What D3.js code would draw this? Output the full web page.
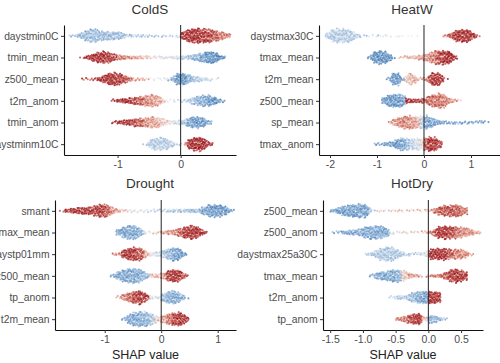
<!DOCTYPE html>
<html><head><meta charset="utf-8">
<script src="https://cdn.jsdelivr.net/npm/d3@7"></script>
<style>
body{margin:0;background:#fff}
svg{display:block}
text{font-family:"Liberation Sans",Arial,Helvetica,sans-serif}
</style>
</head><body>
<svg id="chart" width="500" height="363"></svg>
<script>
// ---------------- DATA (histograms of SHAP values) ----------------
// Each feature row: bins of width 0.1 starting at *Start; counts = relative number of samples,
// colours = mean normalised feature value in the bin (-1 low / blue ... +1 high / red).
const binWidth = 0.1;
const panelTitles = ["ColdS", "HeatW", "Drought", "HotDry"];

const coldsFeatures = ["daystmin0C", "tmin_mean", "z500_mean", "t2m_anom", "tmin_anom", "daystminm10C"];
const coldsStart = [-1.8, -1.6, -1.6, -1.1, -1.1, -0.6];
const coldsCounts = [
  [2,6,18,30,30,22,20,18,16,5, 4,4,4,3,3,3,3,2, 20,30,35,32,30,26,20,10],
  [3,12,22,28,26,14,10,9,8,7,6,6,6,6,6,7,8,10,15,22,28,24,8],
  [2,3,5,14,26,30,24,14,6,4,3,3,3,3,8,26,28,18,14,10,6,2],
  [4,8,12,16,20,24,28,24,4,3,3,4,12,22,26,26,16,4],
  [5,10,14,18,20,22,26,24,14,8,8,12,24,28,22,8],
  [3,28,30,30,14,3,3,24,32,30,8]
];
const coldsColours = [
  [-0.45,-0.45,-0.45,-0.45,-0.45,-0.45,-0.45,-0.45,-0.45,-0.45, -0.42,-0.4,-0.38,-0.35,-0.3,-0.25,-0.2,-0.15, 0.9,0.9,0.9,0.85,0.8,0.7,0.6,0.55],
  [0.9,0.9,0.9,0.9,0.85,0.8,0.6,0.5,0.4,0.3,0.2,0.1,0,-0.05,-0.1,-0.2,-0.3,-0.4,-0.5,-0.65,-0.75,-0.8,-0.8],
  [0.85,0.85,0.85,0.9,0.9,0.9,0.85,0.7,0.5,0.4,0.3,0.2,0.1,0,-0.5,-0.75,-0.7,-0.5,-0.35,-0.25,-0.15,-0.1],
  [0.95,0.95,0.9,0.85,0.7,0.55,0.45,0.35,0.15,0.05,-0.1,-0.2,-0.35,-0.5,-0.55,-0.7,-0.8,-0.8],
  [0.95,0.95,0.9,0.8,0.7,0.5,0.4,0.3,0.15,0,-0.15,-0.4,-0.65,-0.7,-0.7,-0.6],
  [-0.3,-0.3,-0.3,-0.3,-0.3,-0.2,0.5,0.95,0.95,0.95,0.9]
];
const coldsTicks = [-1, 0];

const heatwFeatures = ["daystmax30C", "tmax_mean", "t2m_mean", "z500_mean", "sp_mean", "tmax_anom"];
const heatwStart = [-2.1, -1.2, -0.8, -0.9, -0.8, -1.1];
const heatwCounts = [
  [12,30,34,34,32,26,14,4, 2,2,2,2,1,1,1,1,1,1,1,1, 0,0,0,0,0, 2,10,22,28,30,26,16,4],
  [6,28,32,30,20,4,1,2,6,8,10,12,16,24,30,34,34,30,8],
  [4,30,30,4,22,28,10,3,6,26,30,26,2],
  [16,28,32,32,28,12,10,8,10,14,26,32,34,28,12,6,2],
  [2,14,22,28,32,32,26,28,32,24,14,8,6,5,4,4,6,5,6,5,4,2],
  [2,6,6,8,14,26,30,26,26,28,24,30,34,30,14]
];
const heatwColours = [
  [-0.3,-0.3,-0.3,-0.3,-0.3,-0.3,-0.3,-0.3, -0.3,-0.3,-0.28,-0.27,-0.25,-0.24,-0.22,-0.2,-0.18,-0.16,-0.14,-0.12, 0,0,0,0,0, 0.5,0.7,0.85,0.9,0.9,0.9,0.9,0.85],
  [-0.75,-0.75,-0.75,-0.75,-0.75,-0.75,0.2,0.25,0.3,0.3,0.35,0.4,0.45,0.55,0.65,0.8,0.9,0.95,0.95],
  [-0.7,-0.7,-0.7,-0.7,0.25,0.3,0.35,0.45,0.6,0.85,0.9,0.9,0.9],
  [-0.7,-0.7,-0.7,-0.7,-0.65,0.9,0.95,0.9,0.8,0.7,0.65,0.6,0.6,0.55,0.5,0.45,0.4],
  [0.45,0.45,0.5,0.55,0.5,0.45,0.35,-0.3,-0.6,-0.65,-0.65,-0.65,-0.65,-0.65,-0.65,-0.65,-0.65,-0.65,-0.65,-0.65,-0.65,-0.65],
  [-0.7,-0.7,-0.7,-0.7,-0.7,-0.7,-0.6,-0.4,-0.25,-0.15,0.1,0.8,0.9,0.85,0.8]
];
const heatwTicks = [-2, -1, 0, 1];

const droughtFeatures = ["smant", "tmax_mean", "daystp01mm", "z500_mean", "tp_anom", "t2m_mean"];
const droughtStart = [-1.8, -0.8, -0.9, -0.9, -0.8, -0.7];
const droughtCounts = [
  [3,8,12,16,16,18,26,30,28,14, 8,6,5,5,5,5,5,5, 5,6,6,6,7,8,8,18, 28,30,28,20,3],
  [16,28,34,30,16,2,2,6,8,10,14,20,28,34,26,8],
  [2,6,22,30,32,28,10,8,10,18,26,30,22,2],
  [6,22,30,34,34,28,12,8,10,14,26,30,22,6],
  [4,16,24,30,32,14,6,6,20,28,30,16,2],
  [6,26,34,36,34,26,10,18,26,32,30,12]
];
const droughtColours = [
  [0.9,0.9,0.9,0.9,0.9,0.85,0.85,0.85,0.7,0.5, 0.35,0.2,0.1,0,-0.1,-0.15,-0.2,-0.25, -0.3,-0.35,-0.35,-0.4,-0.4,-0.45,-0.5,-0.6, -0.7,-0.7,-0.7,-0.7,-0.7],
  [-0.6,-0.6,-0.6,-0.6,-0.55,0,0.2,0.3,0.35,0.45,0.55,0.7,0.85,0.9,0.9,0.9],
  [0.6,0.6,0.9,0.9,0.85,0.75,0.4,-0.05,-0.2,-0.35,-0.5,-0.65,-0.7,-0.7],
  [-0.6,-0.6,-0.6,-0.6,-0.6,-0.55,-0.45,0.2,0.3,0.5,0.85,0.9,0.85,0.7],
  [0.5,0.55,0.65,0.8,0.9,0.85,-0.05,-0.1,-0.45,-0.55,-0.6,-0.55,-0.5],
  [-0.6,-0.6,-0.6,-0.55,-0.5,-0.35,0.2,0.45,0.6,0.8,0.9,0.9]
];
const droughtTicks = [-1, 0, 1];

const hotdryFeatures = ["z500_mean", "z500_anom", "daystmax25a30C", "tmax_mean", "t2m_anom", "tp_anom"];
const hotdryStart = [-1.5, -1.5, -1.0, -0.9, -0.6, -0.5];
const hotdryCounts = [
  [8,18,26,30,32,30,2, 2,2,2,2,2,2,2,3, 6,18,24,26,30,16],
  [2,6,10,12,16,26,30,30,22,3,2,2,2,2,4,8,26,30,28,26,22,16,6],
  [2,8,26,34,32,18,6,4,4,10,24,26,28,22,24,20,4],
  [6,18,22,30,28,22,10,6,2,6,8,14,30,34,20],
  [4,10,8,22,28,30,28,24],
  [8,16,24,28,8,20,12,3]
];
const hotdryColours = [
  [-0.65,-0.65,-0.65,-0.65,-0.65,-0.65,-0.3, 0.1,0.1,0.15,0.15,0.2,0.2,0.25,0.3, 0.5,0.7,0.75,0.75,0.7,0.6],
  [-0.6,-0.6,-0.6,-0.6,-0.6,-0.6,-0.6,-0.6,-0.6,-0.2,0,0.05,0.1,0.15,0.3,0.6,0.9,0.9,0.8,0.6,0.5,0.45,0.4],
  [-0.3,-0.35,-0.35,-0.35,-0.35,-0.35,-0.35,-0.3,-0.3,-0.1,0.95,0.95,0.9,0.7,0.55,0.5,0.45],
  [-0.6,-0.6,-0.6,-0.6,-0.5,0.2,0.4,0.45,0.5,0.55,0.6,0.7,0.85,0.9,0.85],
  [-0.25,-0.3,-0.35,-0.45,-0.55,-0.65,0.9,0.9],
  [0.55,0.65,0.8,0.9,0.3,-0.55,-0.5,-0.4]
];
const hotdryTicks = [-1.5, -1.0, -0.5, 0.0, 0.5];

const xAxisTitle = "SHAP value";

// ---------------- LAYOUT ----------------
const panels = [
  {title: panelTitles[0], features: coldsFeatures, starts: coldsStart, counts: coldsCounts, colours: coldsColours,
   ticks: coldsTicks, fmt: d => String(d), domain: [-1.85, 0.878], xr: [64, 236], yr: [25, 155], titleX: 150, titleY: 14, xlabel: false},
  {title: panelTitles[1], features: heatwFeatures, starts: heatwStart, counts: heatwCounts, colours: heatwColours,
   ticks: heatwTicks, fmt: d => String(d), domain: [-2.234, 1.617], xr: [319, 500], yr: [25, 155], titleX: 412, titleY: 14, xlabel: false},
  {title: panelTitles[2], features: droughtFeatures, starts: droughtStart, counts: droughtCounts, colours: droughtColours,
   ticks: droughtTicks, fmt: d => String(d), domain: [-1.88, 1.324], xr: [55, 236], yr: [200, 330], titleX: 150, titleY: 188, xlabel: true},
  {title: panelTitles[3], features: hotdryFeatures, starts: hotdryStart, counts: hotdryCounts, colours: hotdryColours,
   ticks: hotdryTicks, fmt: d => d.toFixed(1), domain: [-1.61, 0.835], xr: [323, 483], yr: [200, 330], titleX: 412, titleY: 188, xlabel: true}
];

const colour = d3.scaleLinear()
  .domain([-1, -0.5, 0, 0.5, 1])
  .range(["#2f6aa8", "#8fb4da", "#f1f0f0", "#de8a76", "#960a12"])
  .clamp(true);

const svg = d3.select("#chart");
const frac = v => v - Math.floor(v);

function drawRow(g, x, yc, start, counts, cols) {
  const n = counts.length;
  const lo = x(start), hi = x(start + n * binWidth);
  const dx = 1.4, dy = 1.7, k = 0.21;
  let idx = 0, col = 0;
  for (let px = lo + dx / 2; px < hi; px += dx) {
    col++;
    const v = x.invert(px);
    const bi = Math.min(n - 1, Math.max(0, Math.floor((v - start) / binWidth + 1e-9)));
    if (counts[bi] === 0) continue;
    const f = (v - start) / binWidth - 0.5;
    const i0 = Math.max(0, Math.min(n - 1, Math.floor(f)));
    const i1 = Math.max(0, Math.min(n - 1, i0 + 1));
    const t = Math.max(0, Math.min(1, f - i0));
    const cnt = counts[i0] * (1 - t) + counts[i1] * t;
    const cbase = cols[bi];
    // jagged beeswarm outline
    const hh = cnt * k * (0.82 + 0.36 * frac(col * 0.7548776662));
    let m;
    if (cnt < 5) {
      idx++;
      if (frac(idx * 0.6180339887) > cnt / 5 + 0.1) continue;
      m = 1;
    } else {
      m = Math.max(1, Math.round(2 * hh / dy));
    }
    for (let j = 0; j < m; j++) {
      idx++;
      const a = frac(idx * 0.7548776662), b = frac(idx * 0.5698402910), c = frac(idx * 0.6180339887);
      const yy = m === 1 ? yc + (a - 0.5) * Math.min(3, 2 * hh + 1.5)
                         : yc - hh + (j + 0.5) * (2 * hh / m) + (a - 0.5) * 1.0;
      const xx = px + (b - 0.5) * 1.1;
      g.append("circle")
        .attr("cx", xx).attr("cy", yy).attr("r", 1.05)
        .attr("fill", colour(cbase + (c - 0.5) * 0.5))
        .attr("fill-opacity", 0.8);
    }
  }
}

panels.forEach(p => {
  const g = svg.append("g");
  const x = d3.scaleLinear().domain(p.domain).range(p.xr);
  const y = d3.scalePoint().domain(p.features).range(p.yr).padding(0.5);

  // points
  const dots = g.append("g");
  p.features.forEach((f, i) => drawRow(dots, x, y(f), p.starts[i], p.counts[i], p.colours[i]));

  // zero line
  g.append("line")
    .attr("x1", x(0)).attr("x2", x(0)).attr("y1", p.yr[0]).attr("y2", p.yr[1])
    .attr("stroke", "#222").attr("stroke-width", 1);

  // x axis
  const xa = g.append("g").attr("transform", `translate(0,${p.yr[1]})`)
    .call(d3.axisBottom(x).tickValues(p.ticks).tickFormat(p.fmt).tickSize(3).tickPadding(3).tickSizeOuter(0));
  xa.select(".domain").attr("stroke", "#111").attr("stroke-width", 1.1);
  xa.selectAll(".tick line").attr("stroke", "#333");
  xa.selectAll("text").attr("fill", "#4d4d4d").attr("font-size", 10.5)
    .style("font-family", "'Liberation Sans', Arial, sans-serif");

  // y axis
  const ya = g.append("g").attr("transform", `translate(${p.xr[0]},0)`)
    .call(d3.axisLeft(y).tickSize(3).tickPadding(2.5).tickSizeOuter(0));
  ya.select(".domain").attr("stroke", "#111").attr("stroke-width", 1.1);
  ya.selectAll(".tick line").attr("stroke", "#333");
  ya.selectAll("text").attr("fill", "#4d4d4d").attr("font-size", 10.3)
    .style("font-family", "'Liberation Sans', Arial, sans-serif");

  // title
  g.append("text").attr("x", p.titleX).attr("y", p.titleY).attr("text-anchor", "middle")
    .attr("font-size", 13.5).attr("font-weight", 400).attr("fill", "#333").text(p.title);

  if (p.xlabel) {
    g.append("text").attr("x", (p.xr[0] + p.xr[1]) / 2).attr("y", 359).attr("text-anchor", "middle")
      .attr("font-size", 12.5).attr("fill", "#222").text(xAxisTitle);
  }
});
</script>
</body></html>
